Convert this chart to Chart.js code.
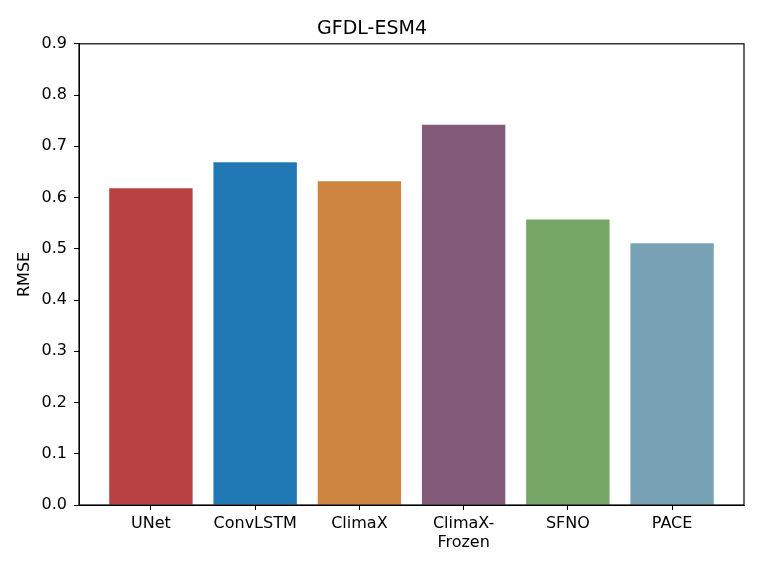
<!DOCTYPE html>
<html>
<head>
<meta charset="utf-8">
<script src="https://cdn.jsdelivr.net/npm/chart.js@4/dist/chart.umd.min.js"></script>
<style>
  html, body { margin: 0; padding: 0; background: #fff; }
  #wrap { width: 761px; height: 571px; }
</style>
</head>
<body>
<div id="wrap"><canvas id="chart" width="761" height="571"></canvas></div>
<script>
// data
const models = ['UNet', 'ConvLSTM', 'ClimaX', ['ClimaX-', 'Frozen'], 'SFNO', 'PACE'];
const rmse = [0.618, 0.669, 0.632, 0.742, 0.557, 0.511];
const barColors = ['#b94141', '#1f77b4', '#cd853f', '#845a7b', '#76a665', '#78a3b7'];
const yTicks = [0, 0.1, 0.2, 0.3, 0.4, 0.5, 0.6, 0.7, 0.8, 0.9];

const FONT = 'DejaVu Sans';

// box around the plot area (matplotlib spines)
const frame = {
  id: 'frame',
  afterDraw(chart) {
    const a = chart.chartArea;
    const ctx = chart.ctx;
    ctx.save();
    ctx.strokeStyle = '#000';
    ctx.lineWidth = 1.2;
    ctx.strokeRect(a.left, a.top, a.right - a.left, a.bottom - a.top);
    ctx.restore();
  }
};

const ctx = document.getElementById('chart').getContext('2d');
new Chart(ctx, {
  type: 'bar',
  data: {
    datasets: [{
      data: rmse.map((v, i) => ({ x: i, y: v })),
      backgroundColor: barColors,
      borderWidth: 0,
      barPercentage: 0.8,
      categoryPercentage: 1
    }]
  },
  options: {
    responsive: false,
    animation: false,
    layout: { padding: { left: 0, right: 17, top: 0, bottom: 0 } },
    plugins: {
      legend: { display: false },
      tooltip: { enabled: false },
      title: {
        display: true,
        text: 'GFDL-ESM4',
        color: '#000',
        font: { family: FONT, size: 19, weight: 'normal' },
        padding: { top: 18, bottom: 3 }
      }
    },
    scales: {
      x: {
        type: 'linear',
        min: -0.69,
        max: 5.69,
        offset: false,
        afterBuildTicks: s => { s.ticks = models.map((m, i) => ({ value: i })); },
        afterFit: s => { s.height = 66; },
        grid: { offset: false, drawOnChartArea: false, drawTicks: true, tickLength: 5, color: '#000', tickWidth: 1 },
        border: { display: true, color: '#000', width: 1 },
        ticks: {
          color: '#000',
          font: { family: FONT, size: 16 },
          padding: 4,
          maxRotation: 0,
          autoSkip: false,
          callback: v => models[v]
        }
      },
      y: {
        min: 0,
        max: 0.9,
        afterBuildTicks: s => { s.ticks = yTicks.map(v => ({ value: v })); },
        afterFit: s => { s.width = 79; },
        grid: { drawOnChartArea: false, drawTicks: true, tickLength: 5, color: '#000', tickWidth: 1 },
        border: { display: true, color: '#000', width: 1 },
        ticks: {
          color: '#000',
          font: { family: FONT, size: 16 },
          padding: 7,
          callback: v => v.toFixed(1)
        },
        title: {
          display: true,
          text: 'RMSE',
          color: '#000',
          font: { family: FONT, size: 16 },
          padding: { top: 15, bottom: 0 }
        }
      }
    }
  },
  plugins: [frame]
});
</script>
</body>
</html>
